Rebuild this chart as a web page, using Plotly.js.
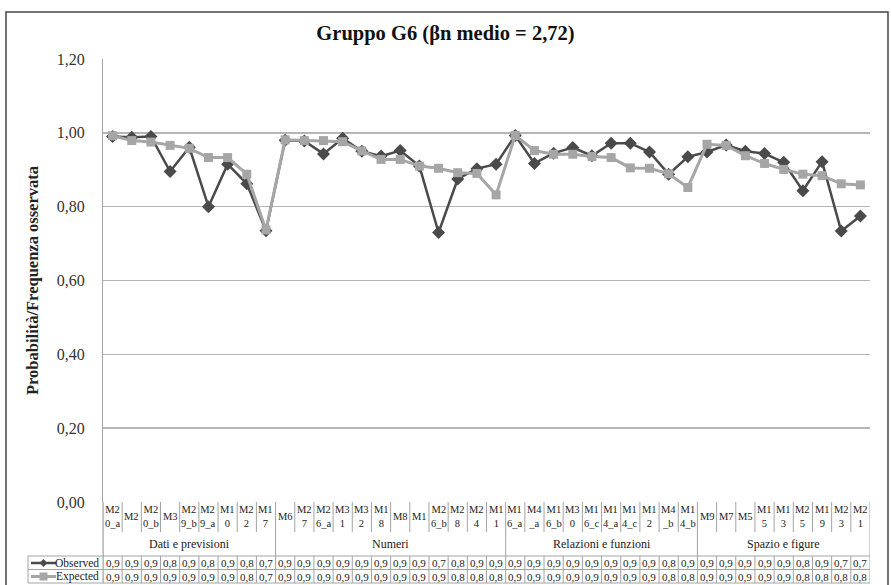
<!DOCTYPE html>
<html>
<head>
<meta charset="utf-8">
<script src="https://cdn.plot.ly/plotly-3.0.1.min.js"></script>
<style>html,body{margin:0;padding:0;background:#fff;}#chart{width:891px;height:585px;}</style>
</head>
<body>
<div id="chart"></div>
<script>
// ---- data ----
const categories = ["M20_a","M2","M20_b","M3","M29_b","M29_a","M10","M22","M17",
  "M6","M27","M26_a","M31","M32","M18","M8","M1","M26_b","M28","M24","M11",
  "M16_a","M4_a","M16_b","M30","M16_c","M14_a","M14_c","M12","M4_b","M14_b",
  "M9","M7","M5","M15","M13","M25","M19","M23","M21"];
const groupNames = ["Dati e previsioni","Numeri","Relazioni e funzioni","Spazio e figure"];
const groupSizes = [9, 12, 10, 9];
const observed = [0.990,0.988,0.990,0.895,0.961,0.800,0.915,0.862,0.735,
  0.980,0.978,0.943,0.985,0.950,0.937,0.952,0.910,0.730,0.875,0.903,0.915,
  0.993,0.917,0.945,0.960,0.938,0.972,0.972,0.948,0.888,0.935,
  0.948,0.967,0.950,0.944,0.920,0.843,0.922,0.734,0.775];
const expected = [0.992,0.979,0.975,0.966,0.958,0.933,0.933,0.888,0.737,
  0.981,0.979,0.979,0.976,0.951,0.928,0.928,0.910,0.904,0.892,0.890,0.832,
  0.993,0.952,0.942,0.942,0.936,0.933,0.905,0.904,0.889,0.852,
  0.969,0.966,0.938,0.917,0.901,0.888,0.884,0.862,0.859];
const seriesNames = ["Observed","Expected"];
const yTicks = [0, 0.2, 0.4, 0.6, 0.8, 1.0, 1.2];

// ---- geometry ----
const W = 891, H = 585, L = 103, R = 21, T = 59, B = 83;
const PW = W - L - R, PH = H - T - B;
const px = X => (X - L) / PW;
const py = Y => (H - B - Y) / PH;
const serif = "Liberation Serif, serif";
const obsColor = "#4a4a4a", expColor = "#a6a6a6", gridColor = "#b5b5b5", tblColor = "#a3a3a3";
const n = categories.length;
const fmt = v => (Math.floor(v * 10 + 1e-9) / 10).toFixed(1).replace(".", ",");

const traces = [
  {x: categories, y: observed, name: seriesNames[0], type: "scatter", mode: "lines+markers",
   line: {color: obsColor, width: 2.5}, marker: {symbol: "diamond", size: 10, color: obsColor}},
  {x: categories, y: expected, name: seriesNames[1], type: "scatter", mode: "lines+markers",
   line: {color: expColor, width: 3}, marker: {symbol: "square", size: 9, color: expColor}}
];

const shapes = [];
const annotations = [];
const hline = (X0, X1, Y) => shapes.push({type: "line", xref: "paper", yref: "paper",
  x0: px(X0), x1: px(X1), y0: py(Y), y1: py(Y), line: {color: tblColor, width: 1}});
const vlineX = (i, Y0, Y1) => shapes.push({type: "line", xref: "x", yref: "paper",
  x0: i, x1: i, y0: py(Y0), y1: py(Y1), line: {color: tblColor, width: 1}});

// category label row
for (let i = 0; i <= n; i++) vlineX(i - 0.5, 502, 532);
categories.forEach((c, i) => {
  const txt = c.length > 2 ? c.slice(0, 2) + "<br>" + c.slice(2) : c;
  annotations.push({x: i, xref: "x", y: py(516.5), yref: "paper", text: txt, showarrow: false,
    font: {family: serif, size: 10.5, color: "#222"}, yanchor: "middle"});
});
// group row
let start = 0;
vlineX(-0.5, 532, 556);
groupNames.forEach((g, k) => {
  const end = start + groupSizes[k];
  vlineX(end - 0.5, 532, 556);
  annotations.push({x: (start + end - 1) / 2, xref: "x", y: py(543.5), yref: "paper", text: g,
    showarrow: false, font: {family: serif, size: 12, color: "#222"}, yanchor: "middle"});
  start = end;
});
// value rows
hline(28, 870, 556); hline(28, 870, 569.5); hline(28, 870, 583);
shapes.push({type: "line", xref: "paper", yref: "paper", x0: px(28), x1: px(28), y0: py(556), y1: py(583), line: {color: tblColor, width: 1}});
for (let i = 0; i <= n; i++) vlineX(i - 0.5, 556, 583);
[observed, expected].forEach((arr, r) => {
  const Y = r === 0 ? 563 : 576.5;
  arr.forEach((v, i) => annotations.push({x: i, xref: "x", y: py(Y), yref: "paper", text: fmt(v),
    showarrow: false, font: {family: serif, size: 11, color: "#222"}, yanchor: "middle"}));
  annotations.push({x: px(101), xref: "paper", y: py(Y), yref: "paper", text: seriesNames[r], xanchor: "right",
    showarrow: false, font: {family: serif, size: 11.5, color: "#222"}, yanchor: "middle"});
  const col = r === 0 ? obsColor : expColor;
  shapes.push({type: "line", xref: "paper", yref: "paper", x0: px(31), x1: px(56), y0: py(Y), y1: py(Y), line: {color: col, width: r === 0 ? 2.5 : 3}});
  const s = 4;
  const cx = 43.5;
  const path = r === 0
    ? `M ${px(cx - s)} ${py(Y)} L ${px(cx)} ${py(Y - s)} L ${px(cx + s)} ${py(Y)} L ${px(cx)} ${py(Y + s)} Z`
    : `M ${px(cx - s)} ${py(Y - s)} L ${px(cx + s)} ${py(Y - s)} L ${px(cx + s)} ${py(Y + s)} L ${px(cx - s)} ${py(Y + s)} Z`;
  shapes.push({type: "path", xref: "paper", yref: "paper", path: path, fillcolor: col, line: {color: col, width: 0}});
});
// left axis extension & outer border
shapes.push({type: "line", xref: "paper", yref: "paper", x0: 0, x1: 0, y0: py(502), y1: py(583), line: {color: tblColor, width: 1}});
shapes.push({type: "rect", xref: "paper", yref: "paper", x0: px(6), x1: px(888), y0: py(12), y1: py(592),
  line: {color: "#444", width: 1.5}});

const layout = {
  width: W, height: H,
  margin: {l: L, r: R, t: T, b: B},
  paper_bgcolor: "#fff", plot_bgcolor: "#fff",
  separators: ",.",
  showlegend: false,
  font: {family: serif, color: "#222"},
  title: {text: "<b>Gruppo G6 (βn medio = 2,72)</b>", font: {family: serif, size: 20.5, color: "#111"},
    x: 0.5, xref: "container", y: 1 - 33 / H, yref: "container", yanchor: "middle"},
  xaxis: {type: "category", range: [-0.5, n - 0.5], showticklabels: false, showgrid: false, zeroline: false,
    showline: false, ticks: "", fixedrange: true},
  yaxis: {range: [0, 1.2], tickvals: yTicks, tickformat: ".2f", showgrid: true, gridcolor: gridColor, gridwidth: 1.5,
    zeroline: false, showline: true, linecolor: tblColor, linewidth: 1, ticks: "", ticklabelstandoff: 14,
    tickfont: {family: serif, size: 16, color: "#333"},
    title: {text: "<b>Probabilità/Frequenza osservata</b>", font: {family: serif, size: 16.5, color: "#222"}, standoff: 14}},
  shapes: shapes,
  annotations: annotations
};
Plotly.newPlot("chart", traces, layout, {displayModeBar: false, staticPlot: true});
</script>
</body>
</html>
